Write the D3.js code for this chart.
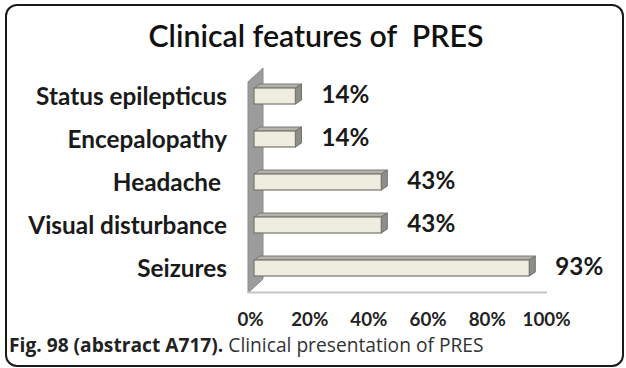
<!DOCTYPE html>
<html>
<head>
<meta charset="utf-8">
<script src="https://cdn.jsdelivr.net/npm/d3@7"></script>
<style>
  html, body { margin: 0; padding: 0; background: #fff; }
  svg { display: block; }
  text { white-space: pre; }
</style>
</head>
<body>
<svg id="chart" width="626" height="368"></svg>
<script>
// Clinical features of PRES — share of patients presenting with each feature
const categories = ["Status epilepticus", "Encepalopathy", "Headache ", "Visual disturbance", "Seizures"];
const percentages = [14, 14, 43, 43, 93];
const tickValues = [0, 20, 40, 60, 80, 100];
const title = "Clinical features of  PRES";
const captionBold = "Fig. 98 (abstract A717).";
const captionText = " Clinical presentation of PRES";

const FONT = "Lato, 'Open Sans', sans-serif";
const svg = d3.select("#chart");

// scale a text element's font so that it spans the given width
function fitWidth(sel, target) {
  const fs = parseFloat(sel.attr("font-size"));
  const w = sel.node().getComputedTextLength();
  sel.attr("font-size", (fs * target / w).toFixed(2));
}

// rounded frame
svg.append("rect")
  .attr("x", 6).attr("y", 5)
  .attr("width", 617).attr("height", 361)
  .attr("rx", 11).attr("ry", 11)
  .attr("fill", "#fff")
  .attr("stroke", "#1a1a1a")
  .attr("stroke-width", 2);

// title
const titleEl = svg.append("text")
  .attr("x", 316).attr("y", 47)
  .attr("text-anchor", "middle")
  .attr("font-family", FONT)
  .attr("font-weight", 600)
  .attr("font-size", 28)
  .attr("fill", "#111")
  .text(title);
fitWidth(titleEl, 335);

// scales
const x = d3.scaleLinear().domain([0, 100]).range([254, 550]);
const y = d3.scalePoint().domain(categories).range([96, 268]);
const barH = 16;
const depthX = 6, depthY = 4;

// left wall and floor of the 3D plot area
const wallX0 = 248, wallX1 = 263;
const g = svg.append("g");
g.append("path")
  .attr("d", `M${wallX0},82 L${wallX1},68 L${wallX1},279 L${wallX0},293 Z`)
  .attr("fill", "#9c9c9c")
  .attr("stroke", "#8a8a8a")
  .attr("stroke-width", 1);
g.append("line")
  .attr("x1", wallX0).attr("x2", x(99))
  .attr("y1", 292.5).attr("y2", 292.5)
  .attr("stroke", "#c4c4c4")
  .attr("stroke-width", 2);

// bars drawn as 3D boxes: top face, side face, front face
const data = categories.map((c, i) => ({ cat: c, v: percentages[i] }));
const bars = g.selectAll("g.bar").data(data).join("g").attr("class", "bar");

bars.append("path") // top face
  .attr("d", d => {
    const x0 = x(0), x1 = x(d.v), yt = y(d.cat) - barH / 2;
    return `M${x0},${yt} L${x0 + depthX},${yt - depthY} L${x1 + depthX},${yt - depthY} L${x1},${yt} Z`;
  })
  .attr("fill", "#b3b2ab")
  .attr("stroke", "#7a7a76")
  .attr("stroke-width", 1)
  .attr("stroke-linejoin", "round");

bars.append("path") // side face
  .attr("d", d => {
    const x1 = x(d.v), yt = y(d.cat) - barH / 2, yb = y(d.cat) + barH / 2;
    return `M${x1},${yt} L${x1 + depthX},${yt - depthY} L${x1 + depthX},${yb - depthY} L${x1},${yb} Z`;
  })
  .attr("fill", "#8e8e88")
  .attr("stroke", "#6f6f6b")
  .attr("stroke-width", 1)
  .attr("stroke-linejoin", "round");

bars.append("rect") // front face
  .attr("x", x(0))
  .attr("y", d => y(d.cat) - barH / 2)
  .attr("width", d => x(d.v) - x(0))
  .attr("height", barH)
  .attr("fill", "#efece0")
  .attr("stroke", "#77776f")
  .attr("stroke-width", 1.2);

// value labels
const valueLabels = g.selectAll("text.val").data(data).join("text")
  .attr("class", "val")
  .attr("x", d => x(d.v) + depthX + 20)
  .attr("y", d => y(d.cat) + 7)
  .attr("font-family", FONT)
  .attr("font-weight", 700)
  .attr("font-size", 21)
  .attr("fill", "#1a1a1a")
  .text(d => d.v + "%");
{
  const ref = valueLabels.filter((d, i) => i === 4);
  const fs = parseFloat(ref.attr("font-size"));
  const k = 48 / ref.node().getComputedTextLength();
  valueLabels.attr("font-size", (fs * k).toFixed(2));
}

// category labels
const catLabels = g.selectAll("text.cat").data(categories).join("text")
  .attr("class", "cat")
  .attr("x", 227)
  .attr("y", d => y(d) + 9)
  .attr("text-anchor", "end")
  .attr("font-family", FONT)
  .attr("font-weight", 700)
  .attr("font-size", 17)
  .attr("fill", "#1a1a1a")
  .text(d => d);
{
  // least-squares font scale over the labels whose spans are known
  const spans = { "Status epilepticus": 186, "Encepalopathy": 158, "Visual disturbance": 218, "Seizures": 60 };
  let num = 0, den = 0;
  catLabels.each(function (d) {
    if (spans[d] === undefined) return;
    const w = this.getComputedTextLength();
    num += spans[d] * w; den += w * w;
  });
  catLabels.attr("font-size", (17 * num / den).toFixed(2));
}

// x axis (labels only)
const axis = svg.append("g")
  .attr("transform", "translate(-4,310)")
  .call(d3.axisBottom(x).tickValues(tickValues).tickSize(0).tickFormat(d => d + "%"));
axis.select(".domain").remove();
axis.attr("font-family", FONT);
axis.selectAll("text")
  .attr("font-weight", 700)
  .attr("font-size", 16)
  .attr("fill", "#222");
{
  const ref = axis.selectAll("text").filter(d => d === 100);
  const k = 48 / ref.node().getComputedTextLength();
  axis.selectAll("text").attr("font-size", (16 * k).toFixed(2));
}

// caption
const cap = svg.append("text")
  .attr("x", 9).attr("y", 352)
  .attr("font-family", "'Open Sans', sans-serif")
  .attr("font-size", 17)
  .attr("fill", "#222");
cap.append("tspan").attr("font-weight", 700).text(captionBold);
cap.append("tspan").attr("font-weight", 400).attr("fill", "#333").text(captionText);
fitWidth(cap, 475);
</script>
</body>
</html>
